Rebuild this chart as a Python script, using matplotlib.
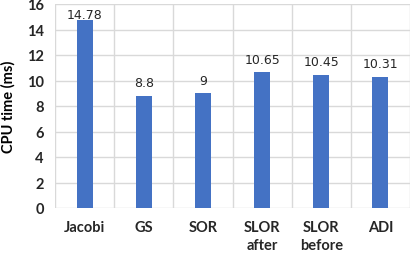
import matplotlib.pyplot as plt

# --- Data ---
methods = ["Jacobi", "GS", "SOR", "SLOR\nafter", "SLOR\nbefore", "ADI"]
cpu_time = [14.78, 8.8, 9, 10.65, 10.45, 10.31]
value_labels = ["14.78", "8.8", "9", "10.65", "10.45", "10.31"]
y_ticks = [0, 2, 4, 6, 8, 10, 12, 14, 16]

fig = plt.figure(figsize=(4.19, 2.55), dpi=100)
ax = fig.add_axes([55 / 419, 1 - 209 / 255, 355 / 419, 204 / 255])

x = range(len(methods))
bars = ax.bar(x, cpu_time, width=0.27, color="#4472C4", zorder=3)

ax.set_xlim(-0.5, len(methods) - 0.5)
ax.set_ylim(0, 16)
ax.set_yticks(y_ticks)

# vertical grid lines between categories
ax.set_xticks([i - 0.5 for i in range(len(methods) + 1)], minor=True)
ax.grid(which="minor", axis="x", color="#D9D9D9", linewidth=1, zorder=0)
ax.grid(which="major", axis="y", color="#D9D9D9", linewidth=1, zorder=0)

ax.set_xticks(list(x))
ax.set_xticklabels(methods, fontsize=10.5, fontweight="bold", family="Lato",
                   color="#262626", linespacing=1.3)
ax.set_yticklabels([str(t) for t in y_ticks], fontsize=10.5, fontweight="bold",
                   family="Lato", color="#262626")
ax.tick_params(axis="both", which="both", length=0)
ax.tick_params(axis="x", pad=9)
ax.tick_params(axis="y", pad=8)

for side in ["top", "right", "left", "bottom"]:
    ax.spines[side].set_visible(False)

ax.set_ylabel("CPU time (ms)", fontsize=10.5, fontweight="bold", family="Lato",
              color="#000000", labelpad=8)

# value labels above bars (kept inside the plot area like Excel does)
for bar, lab in zip(bars, value_labels):
    y_lab = min(bar.get_height() + 0.5, 14.65)
    ax.text(bar.get_x() + bar.get_width() / 2, y_lab, lab,
            ha="center", va="bottom", fontsize=9, family="DejaVu Sans", color="#262626",
            zorder=4)

fig.savefig("out.png", dpi=100)
